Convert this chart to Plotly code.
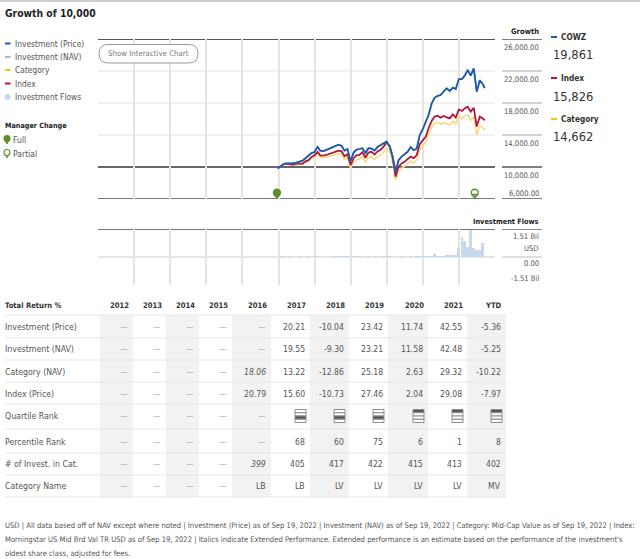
import plotly.graph_objects as go
import pandas as pd

W, H = 640, 559


def X(px):
    return px / W


def Y(py):
    return 1 - py / H


FONT = "DejaVu Sans Condensed, Liberation Sans Narrow, Roboto Condensed, DejaVu Sans, sans-serif"

# ---------------------------------------------------------------- data
START_DATE = "2016-12-16"
END_DATE = "2022-09-19"
try:
    MONTH_ENDS = pd.date_range("2016-12-31", "2022-08-31", freq="ME")
except Exception:
    MONTH_ENDS = pd.date_range("2016-12-31", "2022-08-31", freq="M")
DATES = [pd.Timestamp(START_DATE)] + list(MONTH_ENDS) + [pd.Timestamp(END_DATE)]
FLOW_DATES = list(MONTH_ENDS[1:])

PRICE = [10000, 9880,
         10150, 10420, 10460, 10440, 10480, 10560, 10650, 10800, 11100, 11420, 11750, 11870,
         12520, 12050, 12000, 12150, 12300, 12400, 12550, 12780, 12650, 12050, 12250, 10680,
         11800, 12150, 12250, 12350, 11750, 12350, 12300, 12050, 12500, 12700, 12950, 13180,
         12550, 11350, 9400, 10850, 11300, 11550, 11900, 12500, 12100, 12300, 14000, 14720,
         15600, 16500, 17950, 18650, 18900, 19000, 19450, 19830, 19500, 19920, 19750, 20990,
         21000, 21420, 22130, 21420, 22340, 19410, 20850, 20340, 19861]

NAV = [10000, 9890,
       10140, 10400, 10450, 10430, 10470, 10540, 10630, 10780, 11070, 11380, 11700, 11810,
       12470, 12010, 11980, 12130, 12290, 12390, 12540, 12770, 12640, 12040, 12240, 10710,
       11820, 12160, 12260, 12350, 11760, 12350, 12310, 12060, 12500, 12700, 12950, 13190,
       12560, 11360, 9420, 10850, 11300, 11550, 11900, 12490, 12100, 12300, 13990, 14720,
       15590, 16490, 17940, 18640, 18890, 18990, 19440, 19820, 19490, 19910, 19740, 20980,
       20990, 21410, 22120, 21430, 22330, 19420, 20840, 20350, 19875]

INDEX = [10000, 9927,
         10150, 10380, 10350, 10330, 10300, 10400, 10450, 10400, 10700, 10850, 11250, 11475,
         11900, 11450, 11420, 11500, 11650, 11720, 11950, 12050, 11980, 11350, 11600, 10244,
         11100, 11450, 11500, 11850, 11150, 11800, 11900, 11550, 11950, 12150, 12550, 13057,
         12660, 11300, 8800, 10050, 10450, 10650, 11000, 11300, 11100, 11500, 12850, 13323,
         13800, 14850, 15750, 16300, 16420, 16170, 16380, 16200, 16080, 16580, 16170, 17197,
         17000, 17330, 17540, 16920, 17410, 15050, 16290, 16080, 15826]

CATEGORY = [10000, 9963,
            10170, 10385, 10335, 10300, 10250, 10330, 10365, 10295, 10570, 10705, 11080, 11280,
            11675, 11210, 11155, 11210, 11335, 11380, 11580, 11650, 11560, 10930, 11150, 9829,
            10630, 10945, 10980, 11295, 10615, 11215, 11295, 10950, 11305, 11480, 11840, 12304,
            11930, 10655, 8360, 9500, 9875, 10070, 10405, 10690, 10505, 10890, 12175, 12628,
            13080, 14085, 14940, 15460, 15580, 15345, 15545, 15380, 15270, 15740, 15360, 16331,
            16100, 16360, 16505, 15870, 16280, 14025, 15135, 14905, 14662]

FLOWS_BIL = [0.01, 0.01, 0.00, 0.01, 0.00, 0.00, 0.01, 0.00, 0.00, 0.01, 0.00, 0.01,
             0.01, 0.00, 0.00, 0.00, 0.00, 0.02, 0.03, 0.02, 0.03, 0.02, 0.01, 0.00,
             0.02, 0.02, 0.01, 0.00, 0.00, 0.01, 0.00, 0.01, 0.00, 0.00, 0.01, 0.01,
             0.01, 0.00, 0.00, 0.00, 0.01, 0.00, 0.00, 0.01, 0.00, 0.01, 0.02, 0.03,
             0.03, 0.04, 0.05, 0.14, 0.05, 0.04, 0.05, 0.06, 0.06, 0.07, 0.09, 0.48,
             1.06, 0.85, 0.55, 1.47, 0.50, 0.37, 0.37, 0.75]

MANAGER_FULL = ["2016-12-16"]
MANAGER_PARTIAL = ["2022-06-10"]

Y_TICKS = [26000, 22000, 18000, 14000, 10000, 6000]
BASELINE = 10000
FLOW_MAX = 1.51

RIGHT_LEGEND = [("COWZ", "19,861"), ("Index", "15,826"), ("Category", "14,662")]
LEFT_LEGEND = ["Investment (Price)", "Investment (NAV)", "Category", "Index", "Investment Flows"]

YEARS = ["2012", "2013", "2014", "2015", "2016", "2017", "2018", "2019", "2020", "2021", "YTD"]
PRICE_RET = [None, None, None, None, None, 20.21, -10.04, 23.42, 11.74, 42.55, -5.36]
NAV_RET = [None, None, None, None, None, 19.55, -9.30, 23.21, 11.58, 42.48, -5.25]
CAT_RET = [None, None, None, None, 18.06, 13.22, -12.86, 25.18, 2.63, 29.32, -10.22]
IDX_RET = [None, None, None, None, 20.79, 15.60, -10.73, 27.46, 2.04, 29.08, -7.97]
QUARTILE = [None, None, None, None, None, 3, 3, 3, 1, 1, 1]
PERCENTILE = [None, None, None, None, None, 68, 60, 75, 6, 1, 8]
N_INVEST = [None, None, None, None, 399, 405, 417, 422, 415, 413, 402]
CAT_NAME = [None, None, None, None, "LB", "LB", "LV", "LV", "LV", "LV", "MV"]
EXTENDED = {("Category (NAV)", "2016"), ("# of Invest. in Cat.", "2016")}

FOOTER = [
    "USD | All data based off of NAV except where noted | Investment (Price) as of Sep 19, 2022 | Investment (NAV) as of Sep 19, 2022 | Category: Mid-Cap Value as of Sep 19, 2022 | Index:",
    "Morningstar US Mid Brd Val TR USD as of Sep 19, 2022 | Italics indicate Extended Performance. Extended performance is an estimate based on the performance of the investment's",
    "oldest share class, adjusted for fees.",
]

# ---------------------------------------------------------------- style
C_PRICE = "#1f5aa8"
C_NAV = "#9db9dc"
C_CAT_LINE = "#fad97e"
C_CAT = "#f3c41a"
C_IDX = "#b0173f"
C_FLOW = "#c8d9ed"
C_GREEN = "#5b8f2b"
C_TEXT = "#555555"
C_DARK = "#222222"

fig = go.Figure()

fig.add_trace(go.Bar(x=FLOW_DATES, y=FLOWS_BIL, xaxis="x2", yaxis="y2",
                     marker=dict(color=C_FLOW, line=dict(width=0)),
                     width=28 * 86400000, hoverinfo="skip"))

for vals, col, w in [(CATEGORY, C_CAT_LINE, 1.6), (INDEX, C_IDX, 1.8),
                     (NAV, C_NAV, 1.6), (PRICE, C_PRICE, 1.8)]:
    fig.add_trace(go.Scatter(x=DATES, y=vals, mode="lines",
                             line=dict(color=col, width=w), hoverinfo="skip"))

# manager change pins
for dates_, open_ in [(MANAGER_FULL, False), (MANAGER_PARTIAL, True)]:
    fig.add_trace(go.Scatter(x=dates_, y=[6420] * len(dates_), mode="markers",
                             marker=dict(symbol="triangle-down-open" if open_ else "triangle-down",
                                         size=5, color=C_GREEN, line=dict(color=C_GREEN, width=1.2)),
                             cliponaxis=False, hoverinfo="skip"))
    fig.add_trace(go.Scatter(x=dates_, y=[6780] * len(dates_), mode="markers",
                             marker=dict(symbol="circle-open" if open_ else "circle",
                                         size=7, color=C_GREEN, line=dict(color=C_GREEN, width=1.3)),
                             cliponaxis=False, hoverinfo="skip"))

shapes = []
ann = []


def txt(s, x, y, size, color=C_TEXT, bold=False, italic=False, xanchor="left"):
    if bold:
        s = "<b>%s</b>" % s
    if italic:
        s = "<i>%s</i>" % s
    ann.append(dict(text=s, x=X(x), y=Y(y), xref="paper", yref="paper", xanchor=xanchor,
                    yanchor="middle", showarrow=False,
                    font=dict(size=size, color=color, family=FONT)))


def pline(x0, x1, y0, y1, color, width):
    shapes.append(dict(type="line", xref="paper", yref="paper", x0=X(x0), x1=X(x1),
                       y0=Y(y0), y1=Y(y1), line=dict(color=color, width=width)))


def prect(x0, x1, y0, y1, fill, line_color=None, lw=0, layer="below"):
    shapes.append(dict(type="rect", xref="paper", yref="paper", x0=X(x0), x1=X(x1),
                       y0=Y(y1), y1=Y(y0), fillcolor=fill, layer=layer,
                       line=dict(color=line_color or fill, width=lw)))


def pin(cx, cy, filled):
    shapes.append(dict(type="path", xref="paper", yref="paper",
                       path="M %f %f L %f %f L %f %f Z" % (X(cx - 2.6), Y(cy - 1), X(cx + 2.6), Y(cy - 1), X(cx), Y(cy + 4)),
                       fillcolor=C_GREEN if filled else "white", line=dict(color=C_GREEN, width=1)))
    shapes.append(dict(type="circle", xref="paper", yref="paper",
                       x0=X(cx - 3), x1=X(cx + 3), y0=Y(cy + 1.5), y1=Y(cy - 4.5),
                       fillcolor=C_GREEN if filled else "white", line=dict(color=C_GREEN, width=1.1)))


# top border + title
pline(0, 640, 1, 1, "#cfcfcf", 2)
txt("Growth of 10,000", 3, 13, 10.3, C_DARK, bold=True)

# left legend
leg_cols = [C_PRICE, C_NAV, C_CAT, C_IDX]
leg_y = [43.5, 57, 70, 83.5, 97]
for i, name in enumerate(LEFT_LEGEND):
    if i < 4:
        pline(5, 10.5, leg_y[i], leg_y[i], leg_cols[i], 2)
    else:
        shapes.append(dict(type="circle", xref="paper", yref="paper", x0=X(4.5), x1=X(10.5),
                           y0=Y(leg_y[i] + 3), y1=Y(leg_y[i] - 3), fillcolor=C_FLOW,
                           line=dict(color=C_FLOW, width=0)))
    txt(name, 12.5, leg_y[i], 8.4)
txt("Manager Change", 3, 125, 7.2, C_DARK, bold=True)
pin(7, 140, True)
txt("Full", 10.5, 140, 8.6)
pin(7, 154, False)
txt("Partial", 10.5, 154, 8.6)

# interactive chart button
bx0, bx1, by0, by1, r = 99, 198, 44.5, 63, 9
path = ("M %f %f L %f %f Q %f %f %f %f L %f %f Q %f %f %f %f L %f %f Q %f %f %f %f L %f %f Q %f %f %f %f Z" % (
    X(bx0 + r), Y(by0), X(bx1 - r), Y(by0), X(bx1), Y(by0), X(bx1), Y((by0 + by1) / 2),
    X(bx1), Y((by0 + by1) / 2), X(bx1), Y(by1), X(bx1 - r), Y(by1),
    X(bx0 + r), Y(by1), X(bx0), Y(by1), X(bx0), Y((by0 + by1) / 2),
    X(bx0), Y((by0 + by1) / 2), X(bx0), Y(by0), X(bx0 + r), Y(by0)))
shapes.append(dict(type="path", xref="paper", yref="paper", path=path, fillcolor="white",
                   line=dict(color="#9a9a9a", width=1), layer="above"))
txt("Show Interactive Chart", (bx0 + bx1) / 2, (by0 + by1) / 2, 7.8, "#777777", xanchor="center")

# main chart horizontal lines
for v in Y_TICKS:
    if v == Y_TICKS[0]:
        col, w = "#555555", 2
    elif v == Y_TICKS[-1]:
        col, w = "#777777", 2
    elif v == BASELINE:
        col, w = "#333333", 1.5
    else:
        col, w = "#e2e2e2", 1
    shapes.append(dict(type="line", xref="x domain", yref="y", x0=0, x1=1, y0=v, y1=v,
                       line=dict(color=col, width=w), layer="below"))
    seg_col = "#555555" if v in (Y_TICKS[0], Y_TICKS[-1], BASELINE) else "#aaaaaa"
    shapes.append(dict(type="line", xref="paper", yref="y", x0=X(502), x1=X(542), y0=v, y1=v,
                       line=dict(color=seg_col, width=1.5 if seg_col == "#555555" else 1)))
    ann.append(dict(text="{:,.2f}".format(v), x=X(541), y=v, xref="paper", yref="y",
                    xanchor="right", yanchor="middle", yshift=(6 if v == Y_TICKS[-1] else -8),
                    showarrow=False, font=dict(size=7.6, color=C_TEXT, family=FONT)))
txt("Growth", 541, 31, 7.6, C_DARK, bold=True, xanchor="right")

# right legend
rl_cols = [C_PRICE, C_IDX, C_CAT]
rl_y = [37, 78, 119]
for (nm, val), col, yy in zip(RIGHT_LEGEND, rl_cols, rl_y):
    pline(551, 557, yy, yy, col, 2)
    txt(nm, 558.5, yy, 8.2, "#333333", bold=True)
    txt(val, 550.5, yy + 18, 12.8, "#333333")

# flows panel lines + labels
shapes.append(dict(type="line", xref="x2 domain", yref="y2", x0=0, x1=1, y0=FLOW_MAX, y1=FLOW_MAX,
                   line=dict(color="#777777", width=2), layer="below"))
shapes.append(dict(type="line", xref="x2 domain", yref="y2", x0=0, x1=1, y0=0, y1=0,
                   line=dict(color="#dddddd", width=1.5), layer="below"))
shapes.append(dict(type="line", xref="paper", yref="y2", x0=X(502), x1=X(542), y0=FLOW_MAX, y1=FLOW_MAX,
                   line=dict(color="#666666", width=1.5)))
shapes.append(dict(type="line", xref="paper", yref="y2", x0=X(502), x1=X(542), y0=0, y1=0,
                   line=dict(color="#bbbbbb", width=1)))
txt("Investment Flows", 541, 221, 7.3, C_DARK, bold=True, xanchor="right")
for label, v, sh in [("%.2f Bil" % FLOW_MAX, FLOW_MAX, -7), ("USD", FLOW_MAX, -19),
                     ("0.00", 0, -6), ("-%.2f Bil" % FLOW_MAX, 0, -21)]:
    ann.append(dict(text=label, x=X(541), y=v, xref="paper", yref="y2", xanchor="right",
                    yanchor="middle", yshift=sh, showarrow=False,
                    font=dict(size=7.6, color=C_TEXT, family=FONT)))

# ---------------------------------------------------------------- table
COL_EDGES = [100, 133, 166, 199, 232, 271, 310, 349, 388, 428, 467, 506]
ROW_Y = [326.5, 349, 371.5, 393.5, 416, 441.5, 464, 486]
SEP_Y = [315, 338, 360, 382, 404, 429, 453, 475, 497]
HEAD_Y = 305

for i in range(0, len(YEARS), 2):
    prect(COL_EDGES[i], COL_EDGES[i + 1], SEP_Y[0], SEP_Y[-1], "#f2f2f2")
for sy in SEP_Y:
    pline(5, COL_EDGES[-1], sy, sy, "#e6e6e6", 1)

txt("Total Return %", 3, HEAD_Y, 7.6, "#333333", bold=True)
for i, yr in enumerate(YEARS):
    txt(yr, COL_EDGES[i + 1] - 2, HEAD_Y, 7.6, "#333333", bold=True, xanchor="right")

rows = [("Investment (Price)", PRICE_RET, "pct"), ("Investment (NAV)", NAV_RET, "pct"),
        ("Category (NAV)", CAT_RET, "pct"), ("Index (Price)", IDX_RET, "pct"),
        ("Quartile Rank", QUARTILE, "icon"), ("Percentile Rank", PERCENTILE, "int"),
        ("# of Invest. in Cat.", N_INVEST, "int"), ("Category Name", CAT_NAME, "str")]

for (label, vals, kind), ry in zip(rows, ROW_Y):
    txt(label, 3, ry, 8.7)
    for i, v in enumerate(vals):
        right = COL_EDGES[i + 1] - 3
        if v is None:
            txt("—", right, ry, 8.2, "#b0b0b0", xanchor="right")
            continue
        if kind == "icon":
            h = 13.0
            top = ry - h / 2
            for k in range(4):
                prect(right - 12, right - 1, top + k * h / 4, top + (k + 1) * h / 4,
                      "#555555" if k == v - 1 else "#ffffff", "#8c8c8c", 1, layer="above")
            continue
        s = "%.2f" % v if kind == "pct" else str(v)
        txt(s, right, ry, 8.6, italic=(label, YEARS[i]) in EXTENDED, xanchor="right")

for i, line in enumerate(FOOTER):
    txt(line, 3, 525 + 14 * i, 7.6)

fig.update_layout(
    width=W, height=H, margin=dict(l=0, r=0, t=0, b=0),
    paper_bgcolor="white", plot_bgcolor="white", showlegend=False, bargap=0,
    shapes=shapes, annotations=ann,
    font=dict(family=FONT),
    xaxis=dict(domain=[X(98), X(495)], type="date", range=["2012-01-01", "2023-01-01"],
               tickmode="array", tickvals=["%d-01-01" % y for y in range(2013, 2023)],
               showticklabels=False, ticks="", showgrid=True, gridcolor="#e4e4e4", gridwidth=1.5,
               zeroline=False, showline=False, fixedrange=True),
    yaxis=dict(domain=[Y(199), Y(39)], range=[6000, 26000], showgrid=False, zeroline=False,
               showticklabels=False, showline=False, fixedrange=True),
    xaxis2=dict(domain=[X(98), X(495)], type="date", range=["2012-01-01", "2023-01-01"], anchor="y2",
                tickmode="array", tickvals=["%d-01-01" % y for y in range(2013, 2023)],
                showticklabels=False, ticks="", showgrid=True, gridcolor="#e4e4e4", gridwidth=1.5,
                zeroline=False, showline=False, fixedrange=True),
    yaxis2=dict(domain=[Y(285), Y(229)], range=[-FLOW_MAX, FLOW_MAX], anchor="x2", showgrid=False,
                zeroline=False, showticklabels=False, showline=False, fixedrange=True),
)

fig.write_html("out.html", config={"displayModeBar": False},
               post_script="document.body.style.margin='0px';")
